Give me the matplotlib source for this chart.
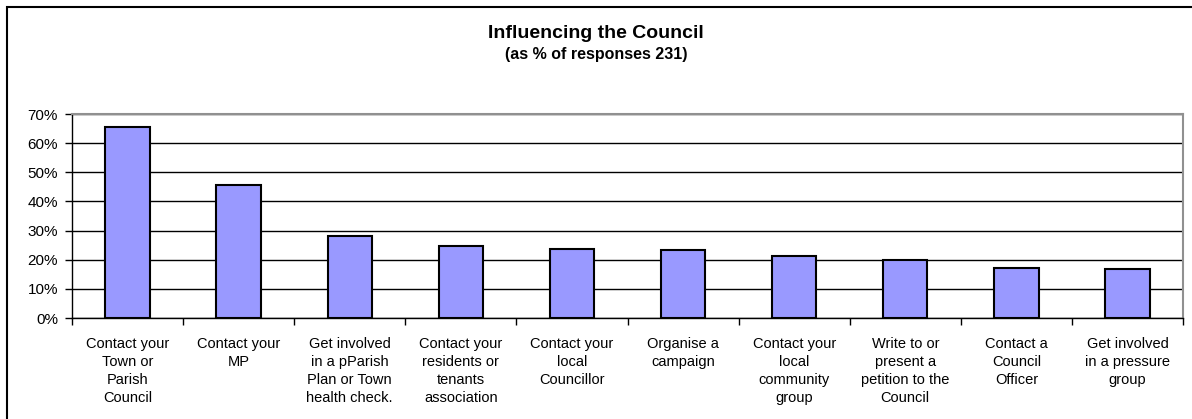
import matplotlib.pyplot as plt
from matplotlib.patches import Rectangle
from matplotlib.ticker import PercentFormatter
import numpy as np

plt.rcParams['font.family'] = ['Liberation Sans', 'DejaVu Sans']

# survey answers (231 responses), share of respondents
categories = [
    "Contact your\nTown or\nParish\nCouncil",
    "Contact your\nMP",
    "Get involved\nin a pParish\nPlan or Town\nhealth check.",
    "Contact your\nresidents or\ntenants\nassociation",
    "Contact your\nlocal\nCouncillor",
    "Organise a\ncampaign",
    "Contact your\nlocal\ncommunity\ngroup",
    "Write to or\npresent a\npetition to the\nCouncil",
    "Contact a\nCouncil\nOfficer",
    "Get involved\nin a pressure\ngroup",
]
share = [0.654, 0.455, 0.281, 0.247, 0.238, 0.234, 0.212, 0.199, 0.173, 0.169]

fig = plt.figure(figsize=(11.92, 4.19), dpi=100)
ax = fig.add_axes([72 / 1192, 1 - 318 / 419, (1183 - 72) / 1192, (318 - 114) / 419])

x = np.arange(len(categories))
ax.bar(x, share, width=0.4, color='#9999FF', edgecolor='black', linewidth=1.5, zorder=3)

ax.set_xlim(-0.5, len(categories) - 0.5)
ax.set_ylim(0, 0.7)
ax.yaxis.set_major_formatter(PercentFormatter(1.0, decimals=0))
ax.set_yticks(np.arange(0, 0.71, 0.1))
ax.yaxis.grid(True, color='black', linewidth=1, zorder=0)

# category labels sit between the tick marks
ax.set_xticks(x)
ax.set_xticklabels(categories, fontsize=10.5, linespacing=1.36)
ax.set_xticks(np.arange(-0.5, len(categories)), minor=True)
ax.tick_params(axis='x', which='major', length=0, pad=14)
ax.tick_params(axis='x', which='minor', length=5, width=1, direction='out')
ax.tick_params(axis='y', length=5, width=1, direction='out', labelsize=11, pad=5)

for side in ['top', 'right']:
    ax.spines[side].set_color('#909090')
    ax.spines[side].set_linewidth(1.5)
for side in ['left', 'bottom']:
    ax.spines[side].set_color('black')
    ax.spines[side].set_linewidth(1)

fig.text(0.5, 1 - 34 / 419, "Influencing the Council", ha='center', va='center',
         fontsize=14, fontweight='bold')
fig.text(0.5, 1 - 54 / 419, "(as % of responses 231)", ha='center', va='center',
         fontsize=11.5, fontweight='bold')

# outer chart frame
fig.patches.append(Rectangle((7.5 / 1192, -0.1), 1.2, 1 - 7.5 / 419 + 0.1,
                             transform=fig.transFigure, fill=False,
                             edgecolor='black', linewidth=1.5))

fig.savefig("out.png", dpi=100)
